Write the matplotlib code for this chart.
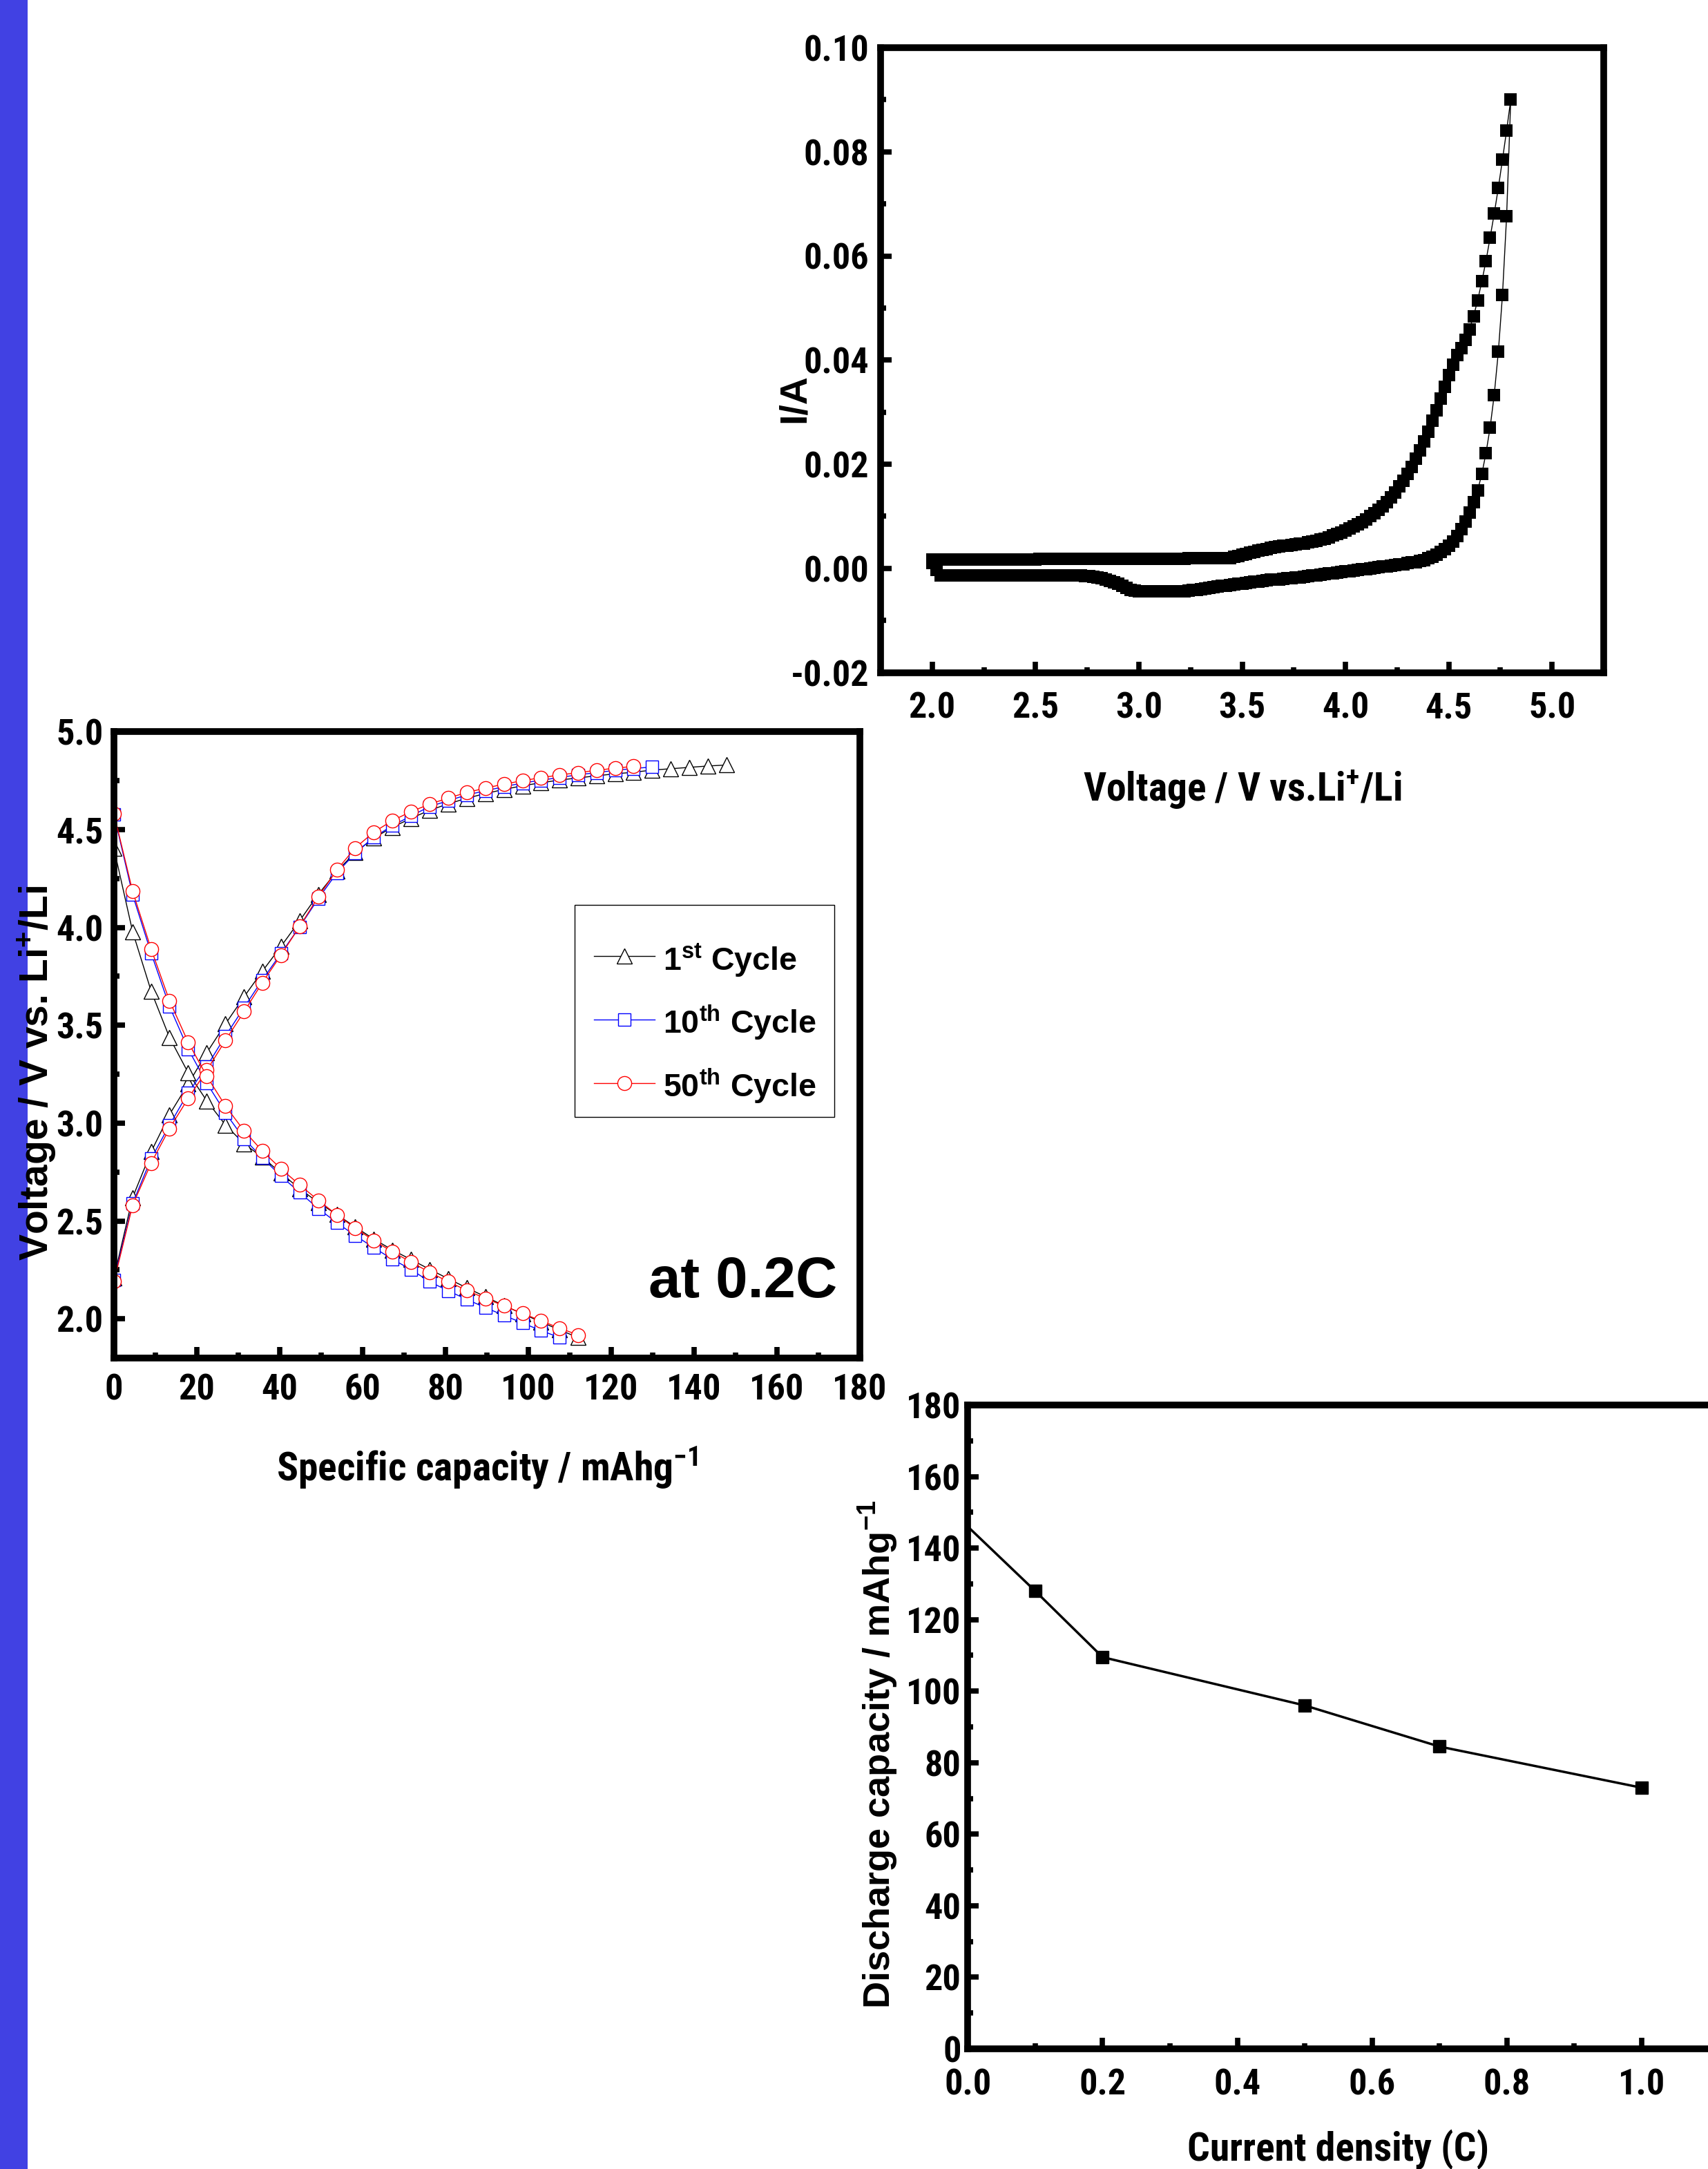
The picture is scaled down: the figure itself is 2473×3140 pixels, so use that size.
import os
import matplotlib
matplotlib.use('Agg')
import matplotlib.pyplot as plt
from matplotlib import font_manager as fm
from matplotlib.font_manager import FontProperties
from matplotlib.textpath import TextToPath
from matplotlib.ticker import FixedLocator
from matplotlib.patches import Rectangle

# ---------------- data: cyclic voltammogram (top right) ----------------
cv_v_fwd = [2.00, 2.02, 2.04, 2.06, 2.08, 2.10, 2.12, 2.14, 2.16, 2.18,
            2.20, 2.22, 2.24, 2.26, 2.28, 2.30, 2.32, 2.34, 2.36, 2.38,
            2.40, 2.42, 2.44, 2.46, 2.48, 2.50, 2.52, 2.54, 2.56, 2.58,
            2.60, 2.62, 2.64, 2.66, 2.68, 2.70, 2.72, 2.74, 2.76, 2.78,
            2.80, 2.82, 2.84, 2.86, 2.88, 2.90, 2.92, 2.94, 2.96, 2.98,
            3.00, 3.02, 3.04, 3.06, 3.08, 3.10, 3.12, 3.14, 3.16, 3.18,
            3.20, 3.22, 3.24, 3.26, 3.28, 3.30, 3.32, 3.34, 3.36, 3.38,
            3.40, 3.42, 3.44, 3.46, 3.48, 3.50, 3.52, 3.54, 3.56, 3.58,
            3.60, 3.62, 3.64, 3.66, 3.68, 3.70, 3.72, 3.74, 3.76, 3.78,
            3.80, 3.82, 3.84, 3.86, 3.88, 3.90, 3.92, 3.94, 3.96, 3.98,
            4.00, 4.02, 4.04, 4.06, 4.08, 4.10, 4.12, 4.14, 4.16, 4.18,
            4.20, 4.22, 4.24, 4.26, 4.28, 4.30, 4.32, 4.34, 4.36, 4.38,
            4.40, 4.42, 4.44, 4.46, 4.48, 4.50, 4.52, 4.54, 4.56, 4.58,
            4.60, 4.62, 4.64, 4.66, 4.68, 4.70, 4.72, 4.74, 4.76, 4.78,
            4.80]
cv_i_fwd = [0.0017, 0.0017, 0.0017, 0.0017, 0.0017, 0.0017, 0.0017, 0.0017, 0.0017, 0.0017,
            0.0017, 0.0017, 0.0017, 0.0017, 0.0017, 0.0017, 0.0017, 0.0017, 0.0017, 0.0017,
            0.0017, 0.0017, 0.0017, 0.0017, 0.0017, 0.0017, 0.0018, 0.0018, 0.0018, 0.0018,
            0.0018, 0.0018, 0.0018, 0.0018, 0.0018, 0.0018, 0.0018, 0.0018, 0.0018, 0.0018,
            0.0018, 0.0018, 0.0018, 0.0018, 0.0018, 0.0018, 0.0018, 0.0018, 0.0018, 0.0018,
            0.0018, 0.0018, 0.0018, 0.0018, 0.0018, 0.0018, 0.0018, 0.0018, 0.0018, 0.0018,
            0.0018, 0.0018, 0.0019, 0.0019, 0.0019, 0.0019, 0.0019, 0.0019, 0.0019, 0.0019,
            0.0019, 0.0019, 0.0020, 0.0022, 0.0024, 0.0026, 0.0028, 0.0030, 0.0032, 0.0034,
            0.0036, 0.0037, 0.0039, 0.0041, 0.0042, 0.0043, 0.0044, 0.0045, 0.0046, 0.0047,
            0.0048, 0.0050, 0.0051, 0.0053, 0.0055, 0.0057, 0.0060, 0.0063, 0.0066, 0.0069,
            0.0072, 0.0076, 0.0080, 0.0084, 0.0089, 0.0094, 0.0100, 0.0106, 0.0112, 0.0119,
            0.0127, 0.0136, 0.0146, 0.0157, 0.0168, 0.0181, 0.0195, 0.0210, 0.0226, 0.0244,
            0.0262, 0.0283, 0.0304, 0.0326, 0.0349, 0.0371, 0.0391, 0.0409, 0.0423, 0.0439,
            0.0459, 0.0484, 0.0515, 0.0551, 0.0590, 0.0635, 0.0681, 0.0731, 0.0785, 0.0841,
            0.0900]
cv_v_rev = [4.78, 4.76, 4.74, 4.72, 4.70, 4.68, 4.66, 4.64, 4.62, 4.60,
            4.58, 4.56, 4.54, 4.52, 4.50, 4.48, 4.46, 4.44, 4.42, 4.40,
            4.38, 4.36, 4.34, 4.32, 4.30, 4.28, 4.26, 4.24, 4.22, 4.20,
            4.18, 4.16, 4.14, 4.12, 4.10, 4.08, 4.06, 4.04, 4.02, 4.00,
            3.98, 3.96, 3.94, 3.92, 3.90, 3.88, 3.86, 3.84, 3.82, 3.80,
            3.78, 3.76, 3.74, 3.72, 3.70, 3.68, 3.66, 3.64, 3.62, 3.60,
            3.58, 3.56, 3.54, 3.52, 3.50, 3.48, 3.46, 3.44, 3.42, 3.40,
            3.38, 3.36, 3.34, 3.32, 3.30, 3.28, 3.26, 3.24, 3.22, 3.20,
            3.18, 3.16, 3.14, 3.12, 3.10, 3.08, 3.06, 3.04, 3.02, 3.00,
            2.98, 2.96, 2.94, 2.92, 2.90, 2.88, 2.86, 2.84, 2.82, 2.80,
            2.78, 2.76, 2.74, 2.72, 2.70, 2.68, 2.66, 2.64, 2.62, 2.60,
            2.58, 2.56, 2.54, 2.52, 2.50, 2.48, 2.46, 2.44, 2.42, 2.40,
            2.38, 2.36, 2.34, 2.32, 2.30, 2.28, 2.26, 2.24, 2.22, 2.20,
            2.18, 2.16, 2.14, 2.12, 2.10, 2.08, 2.06, 2.04, 2.02, 2.00]
cv_i_rev = [0.0676, 0.0525, 0.0416, 0.0333, 0.0270, 0.0221, 0.0181, 0.0150, 0.0127, 0.0107,
            0.0090, 0.0075, 0.0062, 0.0052, 0.0044, 0.0037, 0.0031, 0.0026, 0.0022, 0.0019,
            0.0016, 0.0014, 0.0012, 0.0011, 0.0010, 0.0008, 0.0007, 0.0006, 0.0005, 0.0004,
            0.0003, 0.0002, 0.0001, 0.0000, -0.0001, -0.0002, -0.0003, -0.0004, -0.0005, -0.0006,
            -0.0007, -0.0008, -0.0009, -0.0010, -0.0011, -0.0012, -0.0013, -0.0014, -0.0015, -0.0016,
            -0.0017, -0.0018, -0.0019, -0.0019, -0.0020, -0.0021, -0.0022, -0.0022, -0.0023, -0.0024,
            -0.0025, -0.0026, -0.0027, -0.0028, -0.0029, -0.0030, -0.0031, -0.0032, -0.0033, -0.0034,
            -0.0035, -0.0036, -0.0037, -0.0039, -0.0040, -0.0041, -0.0042, -0.0043, -0.0044, -0.0044,
            -0.0044, -0.0044, -0.0044, -0.0044, -0.0044, -0.0044, -0.0044, -0.0044, -0.0044, -0.0044,
            -0.0043, -0.0041, -0.0038, -0.0034, -0.0030, -0.0027, -0.0024, -0.0021, -0.0019, -0.0017,
            -0.0016, -0.0015, -0.0015, -0.0014, -0.0014, -0.0014, -0.0014, -0.0014, -0.0014, -0.0014,
            -0.0014, -0.0014, -0.0014, -0.0014, -0.0014, -0.0014, -0.0014, -0.0014, -0.0014, -0.0014,
            -0.0014, -0.0014, -0.0014, -0.0014, -0.0014, -0.0014, -0.0014, -0.0014, -0.0014, -0.0014,
            -0.0014, -0.0014, -0.0013, -0.0013, -0.0013, -0.0013, -0.0013, -0.0013, -0.0003, 0.0010]

# ---------------- data: charge / discharge curves (middle left) ----------------
cap_x = [0.0, 4.5, 9.0, 13.4, 17.9, 22.4, 26.9, 31.4, 35.8, 40.3,
         44.8, 49.3, 53.8, 58.2, 62.7, 67.2, 71.7, 76.2, 80.6, 85.1,
         89.6, 94.1, 98.6, 103.0, 107.5, 112.0, 116.5, 121.0, 125.4, 129.9,
         134.4, 138.9, 143.4, 147.8]
charge_1st = [2.21, 2.62, 2.855, 3.044, 3.20, 3.36, 3.507, 3.646, 3.776, 3.903,
              4.034, 4.169, 4.287, 4.383, 4.457, 4.512, 4.558, 4.599, 4.631, 4.660,
              4.684, 4.705, 4.724, 4.739, 4.753, 4.764, 4.775, 4.785, 4.793, 4.804,
              4.811, 4.818, 4.825, 4.830]
charge_10th = [2.20, 2.59, 2.82, 2.99, 3.155, 3.29, 3.445, 3.591, 3.732, 3.867,
               4.003, 4.147, 4.279, 4.379, 4.461, 4.520, 4.570, 4.618, 4.647, 4.677,
               4.698, 4.719, 4.738, 4.752, 4.766, 4.780, 4.791, 4.803, 4.812, 4.820]
charge_50th = [2.19, 2.581, 2.797, 2.973, 3.126, 3.27, 3.423, 3.570, 3.718, 3.859,
               4.005, 4.156, 4.294, 4.406, 4.487, 4.546, 4.592, 4.630, 4.661, 4.689,
               4.712, 4.732, 4.750, 4.765, 4.779, 4.791, 4.803, 4.814, 4.823]
discharge_1st = [4.403, 3.979, 3.673, 3.438, 3.258, 3.114, 2.991, 2.895, 2.826, 2.745,
                 2.665, 2.595, 2.533, 2.470, 2.408, 2.352, 2.303, 2.253, 2.206, 2.159,
                 2.114, 2.068, 2.026, 1.985, 1.944, 1.905]
discharge_10th = [4.577, 4.167, 3.867, 3.597, 3.379, 3.205, 3.053, 2.920, 2.823, 2.730,
                  2.646, 2.564, 2.491, 2.426, 2.364, 2.305, 2.252, 2.190, 2.144, 2.100,
                  2.058, 2.018, 1.979, 1.941, 1.905]
discharge_50th = [4.581, 4.185, 3.888, 3.626, 3.414, 3.240, 3.088, 2.961, 2.858, 2.767,
                  2.685, 2.606, 2.532, 2.464, 2.400, 2.343, 2.290, 2.238, 2.191, 2.146,
                  2.105, 2.067, 2.028, 1.991, 1.953, 1.918]
cycle_labels = [r'1$^{\mathregular{st}}$ Cycle', r'10$^{\mathregular{th}}$ Cycle',
                r'50$^{\mathregular{th}}$ Cycle']

# ---------------- data: rate capability (bottom right) ----------------
rate_c = [0.0, 0.1, 0.2, 0.5, 0.7, 1.0]
rate_cap = [146, 128, 109.5, 96, 84.5, 73]

# ---------------- ticks ----------------
cv_xticks = [2.0, 2.5, 3.0, 3.5, 4.0, 4.5, 5.0]
cv_xticklabels = ['2.0', '2.5', '3.0', '3.5', '4.0', '4.5', '5.0']
cv_xminor = [2.25, 2.75, 3.25, 3.75, 4.25, 4.75]
cv_yticks = [-0.02, 0.0, 0.02, 0.04, 0.06, 0.08, 0.10]
cv_yticklabels = ['-0.02', '0.00', '0.02', '0.04', '0.06', '0.08', '0.10']
cv_yminor = [-0.01, 0.01, 0.03, 0.05, 0.07, 0.09]

gc_xticks = [0, 20, 40, 60, 80, 100, 120, 140, 160, 180]
gc_xticklabels = ['0', '20', '40', '60', '80', '100', '120', '140', '160', '180']
gc_xminor = [10, 30, 50, 70, 90, 110, 130, 150, 170]
gc_yticks = [2.0, 2.5, 3.0, 3.5, 4.0, 4.5, 5.0]
gc_yticklabels = ['2.0', '2.5', '3.0', '3.5', '4.0', '4.5', '5.0']
gc_yminor = [2.25, 2.75, 3.25, 3.75, 4.25, 4.75]

rt_xticks = [0.0, 0.2, 0.4, 0.6, 0.8, 1.0]
rt_xticklabels = ['0.0', '0.2', '0.4', '0.6', '0.8', '1.0']
rt_xminor = [0.1, 0.3, 0.5, 0.7, 0.9]
rt_yticks = [0, 20, 40, 60, 80, 100, 120, 140, 160, 180]
rt_yticklabels = ['0', '20', '40', '60', '80', '100', '120', '140', '160', '180']
rt_yminor = [10, 30, 50, 70, 90, 110, 130, 150, 170]

# ---------------- fonts ----------------
_names = {f.name for f in fm.fontManager.ttflist}
REG = 'Liberation Sans' if 'Liberation Sans' in _names else 'DejaVu Sans'


def _pick_condensed_bold():
    cands = []
    for f in fm.fontManager.ttflist:
        base = os.path.basename(f.fname).lower()
        key = base.replace('_', '').replace('-', '').replace(' ', '')
        if any(k in key for k in ('italic', 'oblique', 'serif', 'mono')):
            continue
        if not any(k in key for k in ('narrow', 'condensed', 'cond')):
            continue
        if any(k in key for k in ('semibold', 'extrabold', 'ultrabold', 'demibold', 'black',
                                  'heavy', 'extracond', 'semicond', 'ultracond', 'light',
                                  'medium', 'thin')):
            continue
        if 'bold' not in key:
            continue
        if 'liberationsansnarrow' in key or 'arialnarrow' in key:
            rank = 0
        elif key.startswith('notosanscondensedbold') or key.startswith('notosanscondbold'):
            rank = 1
        elif key.startswith('roboto'):
            rank = 2
        elif key.startswith('opensans'):
            rank = 3
        elif key.startswith('dejavusans'):
            rank = 4
        elif 'noto' in key:
            continue
        else:
            rank = 5
        cands.append((rank, f.fname))
    cands.sort()
    return cands[0][1] if cands else None


_cond = _pick_condensed_bold()
if _cond is not None:
    TICK_FP = FontProperties(fname=_cond)
    _w, _h, _d = TextToPath().get_text_width_height_descent(
        '0.10', FontProperties(fname=_cond, size=100), ismath=False)
    _sw = 100 * (90 * 0.72) / _w
    _sh = 100 * (40 * 0.72) / _h
    TICK_FS = 0.5 * (_sw + _sh)
    XLAB_FS = TICK_FS * 1.10
else:
    TICK_FP = FontProperties(family=REG, weight='bold')
    TICK_FS, XLAB_FS = 34, 37

plt.rcParams['font.family'] = [REG, 'DejaVu Sans']
plt.rcParams['font.weight'] = 'bold'
plt.rcParams['axes.labelweight'] = 'bold'
plt.rcParams['axes.unicode_minus'] = False

W, H = 2473, 3140
fig = plt.figure(figsize=(W / 100, H / 100), dpi=100)
fig.patch.set_facecolor('white')
fig.add_artist(Rectangle((0, 0), 40 / W, 1, transform=fig.transFigure,
                         facecolor='#4141E3', edgecolor='none', zorder=-10))


def style(ax, xt, xl, xm, yt, yl, ym, xpad, ypad):
    ax.set_xticks(xt)
    ax.set_xticklabels(xl, fontproperties=TICK_FP, fontsize=TICK_FS)
    ax.xaxis.set_minor_locator(FixedLocator(xm))
    ax.set_yticks(yt)
    ax.set_yticklabels(yl, fontproperties=TICK_FP, fontsize=TICK_FS)
    ax.yaxis.set_minor_locator(FixedLocator(ym))
    ax.tick_params(which='both', direction='in', top=False, right=False,
                   width=5.5, color='black')
    ax.tick_params(which='major', length=11.5)
    ax.tick_params(which='minor', length=5.5)
    ax.tick_params(axis='x', which='major', pad=xpad)
    ax.tick_params(axis='y', which='major', pad=ypad)
    for s in ax.spines.values():
        s.set_linewidth(7)
        s.set_color('black')


# ---------------- CV panel ----------------
ax1 = fig.add_axes([1275 / W, 1 - 973.5 / H, 1047 / W, 904.5 / H])
ax1.plot(cv_v_fwd + cv_v_rev, cv_i_fwd + cv_i_rev, color='black', lw=1.0,
         marker='s', ms=12.5, mfc='black', mec='black', mew=0)
ax1.set_xlim(1.75, 5.25)
ax1.set_ylim(-0.02, 0.10)
style(ax1, cv_xticks, cv_xticklabels, cv_xminor, cv_yticks, cv_yticklabels, cv_yminor, 19.5, 12)
ax1.set_xlabel(r'Voltage / V vs.Li$^{\mathregular{+}}$/Li', fontproperties=TICK_FP, fontsize=XLAB_FS)
ax1.xaxis.set_label_coords(0.5, -0.2062)
ax1.xaxis.label.set_va('baseline')
ax1.set_ylabel('I/A', family=REG, weight='bold', fontsize=40)
ax1.yaxis.set_label_coords(-0.1051, 0.4384)
ax1.yaxis.label.set_va('baseline')

# ---------------- charge / discharge panel ----------------
ax2 = fig.add_axes([165 / W, 1 - 1966 / H, 1080 / W, 906.7 / H])
series = [
    (charge_1st, discharge_1st, 'black', '^', 16),
    (charge_10th, discharge_10th, '#0000FF', 's', 13),
    (charge_50th, discharge_50th, '#FF0000', 'o', 14.5),
]
handles = []
for ch, dis, col, mk, ms in series:
    h, = ax2.plot(cap_x[:len(ch)], ch, color=col, lw=1.0, marker=mk, ms=ms,
                  mfc='white', mec=col, mew=1.0)
    ax2.plot(cap_x[:len(dis)], dis, color=col, lw=1.0, marker=mk, ms=ms,
             mfc='white', mec=col, mew=1.0)
    handles.append(h)
ax2.set_xlim(0, 180)
ax2.set_ylim(1.8, 5.0)
style(ax2, gc_xticks, gc_xticklabels, gc_xminor, gc_yticks, gc_yticklabels, gc_yminor, 15.5, 11)
ax2.set_xlabel(r'Specific capacity / mAhg$^{\mathregular{-1}}$', fontproperties=TICK_FP, fontsize=XLAB_FS)
ax2.xaxis.set_label_coords(0.5, -0.1959)
ax2.xaxis.label.set_va('baseline')
ax2.set_ylabel(r'Voltage / V vs. Li$^{\mathregular{+}}$/Li', family=REG, weight='bold', fontsize=41)
ax2.yaxis.set_label_coords(-0.088, 0.4548)
ax2.yaxis.label.set_va('baseline')
# legend frame drawn separately so the entries can sit where they do in the original
ax2.add_patch(Rectangle((0.6173, 0.3853), 0.3481, 0.3383, transform=ax2.transAxes,
                        facecolor='white', edgecolor='black', lw=1.0, zorder=4.5))
leg = ax2.legend(handles, cycle_labels, loc='upper left', bbox_to_anchor=(0.6435, 0.6650),
                 borderaxespad=0, frameon=False, borderpad=0,
                 prop={'family': REG, 'weight': 'bold', 'size': 33.5},
                 handlelength=1.9, handletextpad=0.25,
                 handleheight=1.25, labelspacing=0.77)
ax2.text(0.9694, 0.0971, 'at 0.2C', transform=ax2.transAxes, ha='right', va='baseline',
         family=REG, weight='bold', fontsize=60)

# ---------------- rate panel ----------------
ax3 = fig.add_axes([1401.3 / W, 1 - 2966 / H, 1073.3 / W, 932 / H])
ax3.plot(rate_c, rate_cap, color='black', lw=2.5, marker='s', ms=13,
         mfc='black', mec='black', markevery=[1, 2, 3, 4, 5])
ax3.set_xlim(0, 1.1)
ax3.set_ylim(0, 180)
style(ax3, rt_xticks, rt_xticklabels, rt_xminor, rt_yticks, rt_yticklabels, rt_yminor, 20, 7)
ax3.spines['right'].set_visible(False)
ax3.set_xlabel('Current density (C)', fontproperties=TICK_FP, fontsize=XLAB_FS)
ax3.xaxis.set_label_coords(0.5, -0.1738)
ax3.xaxis.label.set_va('baseline')
ax3.set_ylabel(r'Discharge capacity / mAhg$^{\mathregular{-1}}$', family=REG, weight='bold', fontsize=39)
ax3.yaxis.set_label_coords(-0.1046, 0.457)
ax3.yaxis.label.set_va('baseline')

fig.savefig('out.png', dpi=100)
